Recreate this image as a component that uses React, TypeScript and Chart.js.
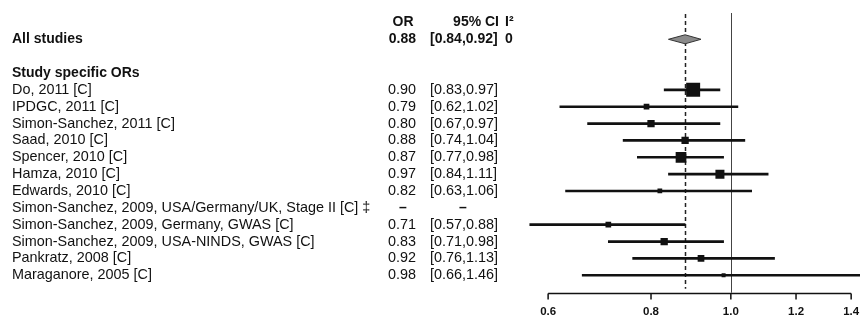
import React, { useEffect, useRef } from 'react';
import { Chart, registerables } from 'chart.js';

Chart.register(...registerables);

// ---------------- data ----------------
const studies = [
  'Do, 2011 [C]',
  'IPDGC, 2011 [C]',
  'Simon-Sanchez, 2011 [C]',
  'Saad, 2010 [C]',
  'Spencer, 2010 [C]',
  'Hamza, 2010 [C]',
  'Edwards, 2010 [C]',
  'Simon-Sanchez, 2009, USA/Germany/UK, Stage II [C] ‡',
  'Simon-Sanchez, 2009, Germany, GWAS [C]',
  'Simon-Sanchez, 2009, USA-NINDS, GWAS [C]',
  'Pankratz, 2008 [C]',
  'Maraganore, 2005 [C]',
];
const orValues: (number | null)[] = [0.90, 0.79, 0.80, 0.88, 0.87, 0.97, 0.82, null, 0.71, 0.83, 0.92, 0.98];
const ciLower: (number | null)[] = [0.83, 0.62, 0.67, 0.74, 0.77, 0.84, 0.63, null, 0.57, 0.71, 0.76, 0.66];
const ciUpper: (number | null)[] = [0.97, 1.02, 0.97, 1.04, 0.98, 1.11, 1.06, null, 0.88, 0.98, 1.13, 1.46];
const weights: (number | null)[] = [28.0, 4.6, 7.6, 7.6, 16.4, 11.6, 3.2, null, 4.6, 7.6, 6.4, 2.3];

const summaryLabel = 'All studies';
const summaryOR = 0.88;
const summaryLower = 0.84;
const summaryUpper = 0.92;
const summaryI2 = '0';
const sectionLabel = 'Study specific ORs';
const headerLabels = ['OR', '95% CI', 'I²'];
const xTicks = [0.6, 0.8, 1.0, 1.2, 1.4];
const xMin = 0.55;
const xMax = 1.435;
const referenceLine = 1.0;

// rows: header, summary, blank, section title, studies
const HEADER_ROW = 0;
const SUMMARY_ROW = 1;
const SECTION_ROW = 3;
const FIRST_STUDY_ROW = 4;
const rowLabels = ['', summaryLabel, '', sectionLabel, ...studies];

const FONT = '"Liberation Sans", Arial, Helvetica, sans-serif';
const INK = '#111';

const fmt = (v: number) => v.toFixed(2);

const forestPlugin = {
  id: 'forestText',
  beforeDatasetsDraw(chart: any) {
    const { ctx, chartArea } = chart;
    const x = chart.scales.x;
    const axisY = chartArea.bottom + 9;
    ctx.save();
    // dashed summary line
    ctx.strokeStyle = '#222';
    ctx.lineWidth = 1.5;
    ctx.setLineDash([4, 3]);
    const xs = Math.round(x.getPixelForValue(summaryOR)) + 0.5;
    ctx.beginPath();
    ctx.moveTo(xs, chartArea.top);
    ctx.lineTo(xs, axisY - 4);
    ctx.stroke();
    // reference line at 1
    ctx.setLineDash([]);
    ctx.lineWidth = 1;
    ctx.strokeStyle = '#444';
    const xr = Math.round(x.getPixelForValue(referenceLine)) + 0.5;
    ctx.beginPath();
    ctx.moveTo(xr, chartArea.top - 1);
    ctx.lineTo(xr, axisY);
    ctx.stroke();
    ctx.restore();
  },
  afterDatasetsDraw(chart: any) {
    const { ctx, chartArea } = chart;
    const x = chart.scales.x;
    const y = chart.scales.y;
    ctx.save();

    // summary diamond
    const yS = y.getPixelForValue(SUMMARY_ROW);
    ctx.beginPath();
    ctx.moveTo(x.getPixelForValue(summaryLower), yS);
    ctx.lineTo(x.getPixelForValue(summaryOR), yS - 4.5);
    ctx.lineTo(x.getPixelForValue(summaryUpper), yS);
    ctx.lineTo(x.getPixelForValue(summaryOR), yS + 4.5);
    ctx.closePath();
    ctx.fillStyle = '#8a8a8a';
    ctx.fill();
    ctx.strokeStyle = '#333';
    ctx.lineWidth = 1;
    ctx.stroke();

    // x axis line with ticks (only over the tick range)
    const axisY = Math.round(chartArea.bottom + 9) + 0.5;
    const x0 = x.getPixelForValue(xTicks[0]);
    const x1 = x.getPixelForValue(xTicks[xTicks.length - 1]);
    ctx.strokeStyle = INK;
    ctx.lineWidth = 1.5;
    ctx.beginPath();
    ctx.moveTo(x0, axisY);
    ctx.lineTo(x1, axisY);
    xTicks.forEach((t) => {
      const px = x.getPixelForValue(t);
      ctx.moveTo(px, axisY);
      ctx.lineTo(px, axisY + 6);
    });
    ctx.stroke();

    // text columns
    const labelX = 12;
    const orRight = 416;
    const orCenter = 403;
    const ciLeft = 430;
    const ciCenter = 463;
    const i2Left = 505;
    ctx.fillStyle = INK;
    ctx.textBaseline = 'middle';

    const bold = `bold 14px ${FONT}`;
    const normal = `14.4px ${FONT}`;

    // header
    const yH = y.getPixelForValue(HEADER_ROW);
    ctx.font = bold;
    ctx.textAlign = 'center';
    ctx.fillText(headerLabels[0], orCenter, yH);
    ctx.textAlign = 'right';
    ctx.fillText(headerLabels[1], 499, yH);
    ctx.textAlign = 'left';
    ctx.fillText(headerLabels[2], i2Left, yH);

    // summary
    ctx.textAlign = 'left';
    ctx.fillText(rowLabels[SUMMARY_ROW], labelX, yS);
    ctx.textAlign = 'right';
    ctx.fillText(fmt(summaryOR), orRight, yS);
    ctx.textAlign = 'left';
    ctx.fillText(`[${fmt(summaryLower)},${fmt(summaryUpper)}]`, ciLeft, yS);
    ctx.fillText(summaryI2, i2Left, yS);

    // section
    ctx.fillText(rowLabels[SECTION_ROW], labelX, y.getPixelForValue(SECTION_ROW));

    // studies
    ctx.font = normal;
    studies.forEach((name, i) => {
      const row = FIRST_STUDY_ROW + i;
      const yy = y.getPixelForValue(row);
      ctx.textAlign = 'left';
      ctx.fillText(name, labelX, yy);
      const o = orValues[i];
      const lo = ciLower[i];
      const hi = ciUpper[i];
      if (o == null || lo == null || hi == null) {
        ctx.font = bold;
        ctx.textAlign = 'center';
        ctx.fillText('–', orCenter, yy);
        ctx.fillText('–', ciCenter, yy);
        ctx.font = normal;
      } else {
        ctx.textAlign = 'right';
        ctx.fillText(fmt(o), orRight, yy);
        ctx.textAlign = 'left';
        ctx.fillText(`[${fmt(lo)},${fmt(hi)}]`, ciLeft, yy);
      }
    });
    ctx.restore();
  },
};

export default function App() {
  const canvasRef = useRef<HTMLCanvasElement | null>(null);

  useEffect(() => {
    const canvas = canvasRef.current;
    if (!canvas) return;

    const studyAt = (r: number) => r - FIRST_STUDY_ROW;

    const ciData = rowLabels.map((_, r) => {
      const i = studyAt(r);
      if (i < 0) return null;
      const lo = ciLower[i];
      const hi = ciUpper[i];
      return lo != null && hi != null ? [lo, hi] : null;
    });

    const pointData = rowLabels.map((_, r) => {
      const i = studyAt(r);
      if (i < 0) return null;
      return orValues[i];
    });

    const pointRadius = rowLabels.map((_, r) => {
      const i = studyAt(r);
      const w = i < 0 ? null : weights[i];
      if (w == null) return 0;
      const side = 14 * Math.sqrt(w / 28);
      return side / Math.SQRT2;
    });

    const chart = new Chart(canvas, {
      type: 'bar',
      data: {
        labels: rowLabels,
        datasets: [
          {
            type: 'bar',
            data: ciData as any,
            backgroundColor: INK,
            borderWidth: 0,
            barThickness: 2,
            clip: false,
            order: 2,
          } as any,
          {
            type: 'scatter',
            data: pointData as any,
            pointStyle: 'rect',
            pointRadius,
            backgroundColor: INK,
            borderColor: INK,
            borderWidth: 0,
            showLine: false,
            order: 1,
          } as any,
        ],
      },
      options: {
        indexAxis: 'y',
        responsive: false,
        animation: false,
        events: [],
        layout: { autoPadding: false, padding: { left: 517, right: 0, top: 14, bottom: 1.5 } },
        plugins: { legend: { display: false }, tooltip: { enabled: false } },
        scales: {
          x: {
            type: 'logarithmic',
            min: xMin,
            max: xMax,
            afterBuildTicks: (scale: any) => {
              scale.ticks = xTicks.map((v) => ({ value: v }));
            },
            grid: { display: false, drawTicks: true, tickLength: 21 },
            border: { display: false },
            ticks: {
              autoSkip: false,
              maxRotation: 0,
              padding: 0,
              color: INK,
              font: { family: FONT, size: 11.5, weight: 'bold' },
              callback: (v: any) => Number(v).toFixed(1),
            },
          },
          y: {
            type: 'category',
            display: false,
            offset: true,
            grid: { display: false },
          },
        },
      } as any,
      plugins: [forestPlugin],
    });

    return () => chart.destroy();
  }, []);

  return (
    <div style={{ position: 'absolute', left: 0, top: 0, width: 860, height: 320, background: '#fff' }}>
      <canvas ref={canvasRef} width={860} height={320} />
    </div>
  );
}
